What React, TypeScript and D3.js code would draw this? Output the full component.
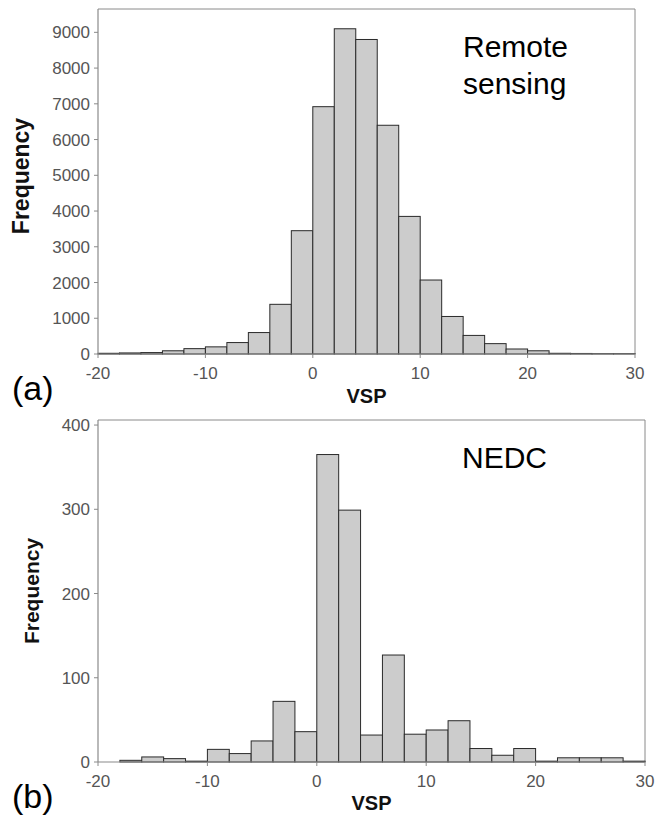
import React from 'react'
import * as d3 from 'd3'

// bin starts (width 2) shared by both panels
const binStarts = [-20, -18, -16, -14, -12, -10, -8, -6, -4, -2, 0, 2, 4, 6, 8, 10, 12, 14, 16, 18, 20, 22, 24, 26, 28]
const binWidth = 2

// (a) remote sensing counts
const remoteCounts = [20, 30, 40, 90, 150, 200, 320, 600, 1390, 3450, 6920, 9100, 8800, 6400, 3850, 2070, 1050, 520, 290, 140, 90, 20, 15, 10, 10]
// (b) NEDC counts
const nedcCounts = [0, 2, 6, 4, 1, 15, 10, 25, 72, 36, 365, 299, 32, 127, 33, 38, 49, 16, 8, 16, 1, 5, 5, 5, 1]

const xTicks = [-20, -10, 0, 10, 20, 30]
const remoteYTicks = [0, 1000, 2000, 3000, 4000, 5000, 6000, 7000, 8000, 9000]
const nedcYTicks = [0, 100, 200, 300, 400]

const FONT = '"Liberation Sans", Arial, sans-serif'

function Panel(props) {
  const { box, counts, yMax, yTicks, title, titleX, titleY, freqX, freqY, freqSize, vspY, tag, tagY } = props
  const x = d3.scaleLinear().domain([-20, 30]).range([box.left, box.right])
  const y = d3.scaleLinear().domain([0, yMax]).range([box.bottom, box.top])
  const axisColor = '#8a8a8a'
  const tickColor = '#555'

  return (
    <g>
      {/* frame */}
      <line x1={box.left} x2={box.right} y1={box.top} y2={box.top} stroke={axisColor} />
      <line x1={box.right} x2={box.right} y1={box.top} y2={box.bottom} stroke={axisColor} />

      {/* bars */}
      {binStarts.map((b, i) => (
        <rect key={i}
          x={x(b)} y={y(counts[i])}
          width={x(b + binWidth) - x(b)}
          height={y(0) - y(counts[i])}
          fill="#cccccc" stroke="#2a2a2a" strokeWidth={1} />
      ))}

      {/* axes */}
      <line x1={box.left} x2={box.left} y1={box.top} y2={box.bottom} stroke={axisColor} strokeWidth={1.2} />
      <line x1={box.left} x2={box.right} y1={box.bottom} y2={box.bottom} stroke={axisColor} strokeWidth={1.2} />

      {yTicks.map(t => (
        <g key={'y' + t}>
          <line x1={box.left - 4} x2={box.left} y1={y(t)} y2={y(t)} stroke={axisColor} />
          <text x={box.left - 8} y={y(t)} dy="0.36em" textAnchor="end"
            fontSize={17} fill={tickColor} fontFamily={FONT}>{t}</text>
        </g>
      ))}
      {xTicks.map(t => (
        <g key={'x' + t}>
          <line x1={x(t)} x2={x(t)} y1={box.bottom} y2={box.bottom + 4} stroke={axisColor} />
          <text x={x(t)} y={box.bottom + 25} textAnchor="middle"
            fontSize={17} fill={tickColor} fontFamily={FONT}>{t}</text>
        </g>
      ))}

      <text x={(box.left + box.right) / 2} y={vspY} textAnchor="middle"
        fontSize={20} fontWeight="bold" fill="#111" fontFamily={FONT}>VSP</text>
      <text transform={`translate(${freqX},${freqY}) rotate(-90)`} textAnchor="middle"
        fontSize={freqSize} fontWeight="bold" fill="#111" fontFamily={FONT}>Frequency</text>

      <text x={titleX} y={titleY} fontSize={30} fill="#000" fontFamily={FONT}>
        {title.map((line, i) => (
          <tspan key={i} x={titleX} dy={i === 0 ? 0 : 36.7}>{line}</tspan>
        ))}
      </text>

      <text x={12} y={tagY} fontSize={34} fill="#000" fontFamily={FONT}>{tag}</text>
    </g>
  )
}

export default function App() {
  return (
    <svg width={655} height={815}
      style={{ position: 'absolute', left: 0, top: 0, background: '#fff' }}>
      <Panel
        box={{ left: 98, right: 635, top: 9, bottom: 354 }}
        counts={remoteCounts} yMax={9653} yTicks={remoteYTicks}
        title={['Remote', 'sensing']} titleX={463} titleY={57}
        freqX={29} freqY={176} freqSize={23} vspY={403} tag="(a)" tagY={400} />
      <Panel
        box={{ left: 98, right: 645, top: 420, bottom: 762 }}
        counts={nedcCounts} yMax={406} yTicks={nedcYTicks}
        title={['NEDC']} titleX={462} titleY={468}
        freqX={39} freqY={591} freqSize={21} vspY={810} tag="(b)" tagY={808} />
    </svg>
  )
}
